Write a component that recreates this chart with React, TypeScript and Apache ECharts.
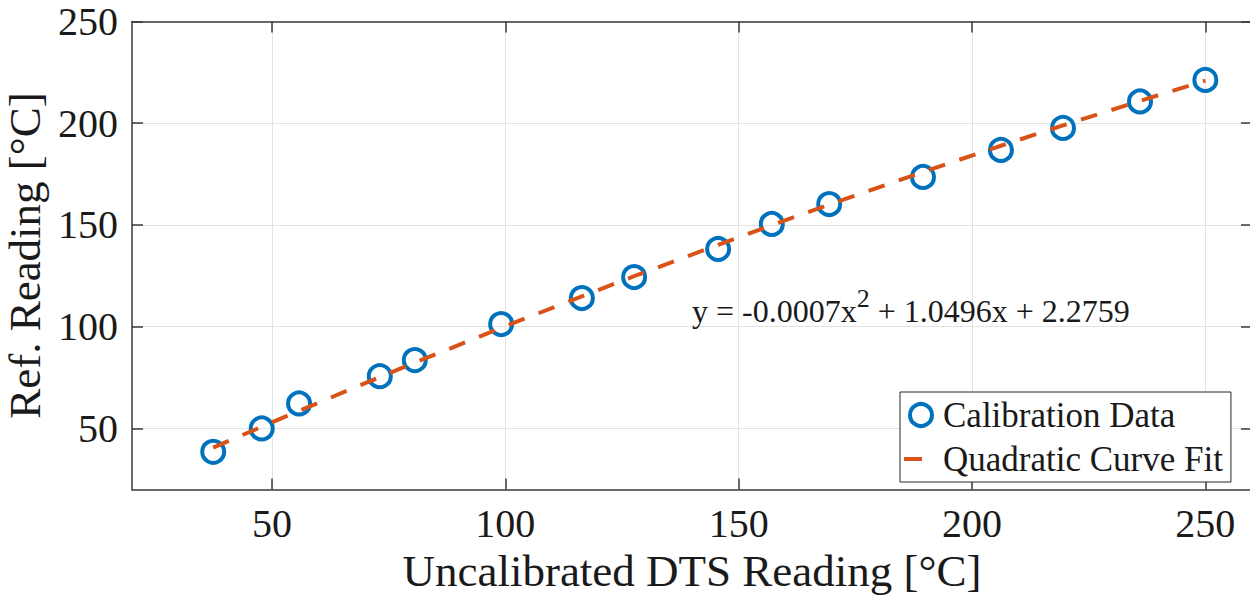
import React, { useEffect, useRef } from "react";
import * as echarts from "echarts";

const xTicks = [50, 100, 150, 200, 250];
const yTicks = [50, 100, 150, 200, 250];

const dtsReading = [37.4, 47.8, 55.8, 73.1, 80.6, 99.1, 116.4, 127.6, 145.6, 157.1, 169.4, 189.5, 206.2, 219.5, 236.0, 250.0];
const refReading = [38.5, 50.0, 62.3, 75.7, 83.6, 101.3, 114.1, 124.4, 138.2, 150.5, 160.3, 173.6, 186.9, 197.7, 210.7, 221.3];
const fitReading = [40.55, 50.85, 58.66, 75.26, 82.33, 99.42, 114.96, 124.81, 140.26, 149.89, 159.99, 176.04, 188.94, 198.94, 210.99, 220.93];

const seriesNames = ["Calibration Data", "Quadratic Curve Fit"];
const xTitle = "Uncalibrated DTS Reading [°C]";
const yTitle = "Ref. Reading [°C]";

const FONT = "'Liberation Serif', 'Times New Roman', serif";
const TEXT = "#1a1a1a";
const AXIS = "#3a3a3a";
const GRID = "#e3e3e3";
const BLUE = "#0072BD";
const ORANGE = "#D95319";

export default function App() {
  const ref = useRef<HTMLDivElement>(null);
  useEffect(() => {
    if (!ref.current) return;
    const chart = echarts.init(ref.current, undefined, { renderer: "svg" });
    const scatterData = dtsReading.map((x, i) => [x, refReading[i]]);
    const fitData = dtsReading.map((x, i) => [x, fitReading[i]]);
    const baseX = {
      type: "value" as const,
      min: 20,
      max: 260,
    };
    const baseY = {
      type: "value" as const,
      min: 20,
      max: 250,
    };
    chart.setOption({
      animation: false,
      backgroundColor: "#ffffff",
      grid: { left: 132, right: -2, top: 21.5, bottom: 112.5, containLabel: false, outerBoundsMode: "none" },
      xAxis: [
        {
          ...baseX,
          position: "bottom",
          name: xTitle,
          nameLocation: "middle",
          nameGap: 56,
          nameTextStyle: { fontFamily: FONT, fontSize: 45, color: TEXT },
          axisLine: { show: true, onZero: false, lineStyle: { color: AXIS, width: 1.5 } },
          axisTick: { show: true, inside: true, length: 11, customValues: xTicks, lineStyle: { color: AXIS, width: 1.5 } },
          axisLabel: { show: true, customValues: xTicks, margin: 14, fontFamily: FONT, fontSize: 40, color: TEXT },
          splitLine: { show: true, lineStyle: { color: GRID, width: 1 } },
        },
        {
          ...baseX,
          position: "top",
          axisLine: { show: true, onZero: false, lineStyle: { color: AXIS, width: 1.5 } },
          axisTick: { show: true, inside: true, length: 11, customValues: xTicks, lineStyle: { color: AXIS, width: 1.5 } },
          axisLabel: { show: false },
          splitLine: { show: false },
        },
      ],
      yAxis: [
        {
          ...baseY,
          position: "left",
          name: yTitle,
          nameLocation: "middle",
          nameGap: 80,
          nameTextStyle: { fontFamily: FONT, fontSize: 45, color: TEXT },
          axisLine: { show: true, onZero: false, lineStyle: { color: AXIS, width: 1.5 } },
          axisTick: { show: true, inside: true, length: 11, customValues: yTicks, lineStyle: { color: AXIS, width: 1.5 } },
          axisLabel: { show: true, customValues: yTicks, margin: 14, fontFamily: FONT, fontSize: 40, color: TEXT },
          splitLine: { show: true, lineStyle: { color: GRID, width: 1 } },
        },
        {
          ...baseY,
          position: "right",
          axisLine: { show: true, onZero: false, lineStyle: { color: AXIS, width: 1.5 } },
          axisTick: { show: true, inside: true, length: 11, customValues: yTicks, lineStyle: { color: AXIS, width: 1.5 } },
          axisLabel: { show: false },
          splitLine: { show: false },
        },
      ],
      legend: {
        show: true,
        orient: "vertical",
        left: 900,
        top: 392,
        align: "left",
        padding: [4, 8, 4, 2],
        itemGap: 6,
        itemWidth: 34,
        itemHeight: 22,
        backgroundColor: "#ffffff",
        borderColor: "#262626",
        borderWidth: 1,
        borderRadius: 0,
        textStyle: { fontFamily: FONT, fontSize: 35, color: TEXT, lineHeight: 38 },
        data: [
          { name: seriesNames[0], icon: "circle", itemStyle: { color: "rgba(0,0,0,0)", borderColor: BLUE, borderWidth: 4 } },
          {
            name: seriesNames[1],
            itemStyle: { opacity: 0 },
            lineStyle: { color: ORANGE, width: 4, type: [18, 40] },
          },
        ],
      },
      graphic: [
        {
          type: "text",
          x: 692,
          y: 285,
          z: 100,
          style: {
            text: "{a|y = -0.0007x}{s|2}{a| + 1.0496x + 2.2759}",
            verticalAlign: "top",
            rich: {
              a: { fontFamily: FONT, fontSize: 32, lineHeight: 52, fill: TEXT, color: TEXT },
              s: { fontFamily: FONT, fontSize: 26, lineHeight: 26, verticalAlign: "top", fill: TEXT, color: TEXT },
            },
          },
        },
      ],
      series: [
        {
          name: seriesNames[0],
          type: "scatter",
          xAxisIndex: 0,
          yAxisIndex: 0,
          data: scatterData,
          symbol: "circle",
          symbolSize: 22,
          itemStyle: { color: "rgba(0,0,0,0)", borderColor: BLUE, borderWidth: 4, opacity: 1 },
          z: 2,
        },
        {
          name: seriesNames[1],
          type: "line",
          xAxisIndex: 0,
          yAxisIndex: 0,
          data: fitData,
          showSymbol: false,
          symbol: "none",
          smooth: false,
          lineStyle: { color: ORANGE, width: 4, type: [17, 15] },
          itemStyle: { color: ORANGE },
          z: 3,
        },
      ],
    });
    return () => chart.dispose();
  }, []);
  return (
    <div
      ref={ref}
      style={{ position: "fixed", left: 0, top: 0, width: 1250, height: 602, background: "#fff" }}
    />
  );
}
